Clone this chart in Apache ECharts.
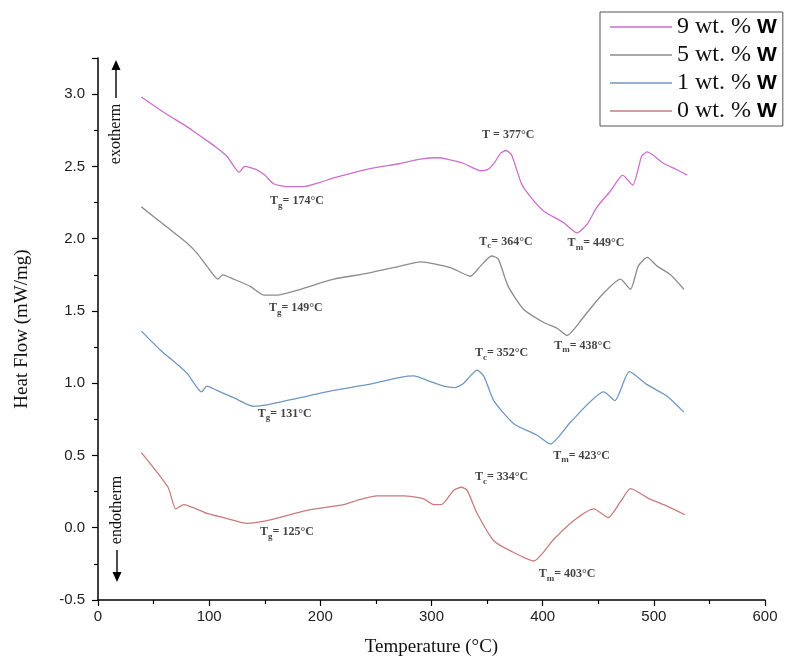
<!DOCTYPE html>
<html>
<head>
<meta charset="utf-8">
<script src="https://cdn.jsdelivr.net/npm/echarts@6/dist/echarts.min.js"></script>
<style>
html, body { margin: 0; padding: 0; background: #fff; }
#main { width: 791px; height: 662px; }
</style>
</head>
<body>
<div id="main"></div>
<script>
// curves: temperature (°C) and heat flow (mW/mg)
var temp9 = [39,60,81,92,105,116,127,132,142,150,158,170,185,200,212,242,272,290,305,314,329,344,351,357,362,367,372,381,390,401,419,431,440,449,461,472,481,489,494,509,520,530];
var flow9 = [2.98,2.87,2.77,2.71,2.64,2.57,2.46,2.50,2.48,2.44,2.38,2.36,2.36,2.39,2.42,2.48,2.52,2.55,2.56,2.55,2.52,2.47,2.48,2.53,2.59,2.61,2.58,2.38,2.28,2.19,2.11,2.04,2.10,2.22,2.33,2.44,2.37,2.57,2.60,2.52,2.48,2.44];

var temp5 = [39,62,80,89,98,108,112,122,137,149,161,182,212,242,272,290,317,335,344,354,360,369,383,401,413,422,437,452,470,479,486,494,503,515,527];
var flow5 = [2.22,2.08,1.97,1.90,1.81,1.72,1.75,1.72,1.67,1.61,1.61,1.65,1.72,1.76,1.81,1.84,1.80,1.74,1.81,1.88,1.86,1.67,1.51,1.42,1.38,1.33,1.46,1.60,1.72,1.65,1.81,1.87,1.81,1.75,1.65];

var temp1 = [39,56,80,93,98,107,122,140,152,182,212,242,272,284,296,311,321,329,341,347,356,374,395,407,425,455,465,478,494,512,527];
var flow1 = [1.36,1.23,1.07,0.94,0.98,0.95,0.90,0.84,0.85,0.90,0.95,0.99,1.04,1.05,1.02,0.98,0.97,1.00,1.09,1.05,0.88,0.72,0.64,0.58,0.73,0.94,0.88,1.08,0.99,0.91,0.80];

var temp0 = [39,63,70,77,98,113,134,158,188,221,233,251,275,293,302,309,320,327,332,341,356,371,392,410,428,446,459,470,479,496,512,528];
var flow0 = [0.52,0.28,0.13,0.16,0.10,0.07,0.03,0.06,0.12,0.16,0.19,0.22,0.22,0.20,0.16,0.16,0.26,0.28,0.26,0.10,-0.09,-0.16,-0.23,-0.08,0.05,0.13,0.07,0.18,0.27,0.20,0.15,0.09];

var seriesNames = ['9 wt. %', '5 wt. %', '1 wt. %', '0 wt. %'];
var seriesColors = ['#cc6fcc', '#8c8c8c', '#6f97c2', '#c87c7c'];

// annotations: subscript letter, temperature text, position (data units)
var annoSub = ['g', '', 'm', 'c', 'g', 'm', 'c', 'g', 'm', 'c', 'g', 'm'];
var annoVal = ['174', '377', '449', '364', '149', '438', '352', '131', '423', '334', '125', '403'];
var annoX = [179, 369, 448, 367, 178, 436, 363, 168, 435, 363, 170, 422];
var annoY = [2.26, 2.72, 1.97, 1.98, 1.52, 1.26, 1.21, 0.79, 0.50, 0.35, -0.03, -0.32];

function zip(xs, ys) {
    return xs.map(function (x, i) { return [x, ys[i]]; });
}

var curves = [zip(temp9, flow9), zip(temp5, flow5), zip(temp1, flow1), zip(temp0, flow0)];

var annoData = annoX.map(function (x, i) {
    var txt = annoSub[i]
        ? '{t|T}{s|' + annoSub[i] + '}{t|= ' + annoVal[i] + '°C}'
        : '{t|T = ' + annoVal[i] + '°C}';
    return { value: [x, annoY[i]], txt: txt };
});

var myChart = echarts.init(document.getElementById('main'));

var series = curves.map(function (d, i) {
    return {
        name: seriesNames[i],
        type: 'line',
        data: d,
        showSymbol: false,
        smooth: 0.2,
        lineStyle: { color: seriesColors[i], width: 1.3 },
        itemStyle: { color: seriesColors[i] },
        z: 3
    };
});

series.push({
    name: 'labels',
    type: 'scatter',
    data: annoData,
    symbolSize: 1,
    silent: true,
    itemStyle: { color: 'rgba(0,0,0,0)' },
    label: {
        show: true,
        position: 'inside',
        formatter: function (p) { return p.data.txt; },
        rich: {
            t: { fontFamily: 'Liberation Serif', fontWeight: 'bold', fontSize: 12, color: '#111' },
            s: { fontFamily: 'Liberation Serif', fontWeight: 'bold', fontSize: 9, color: '#111', padding: [9, 0, 0, 0] }
        }
    },
    z: 5
});

option = {
    backgroundColor: '#fff',
    animation: false,
    grid: { left: 98, right: 26, top: 58, bottom: 61 },
    legend: {
        data: seriesNames,
        orient: 'vertical',
        left: 600,
        top: 12,
        padding: [3, 6, 3, 10],
        borderColor: '#555',
        borderWidth: 1,
        icon: 'rect',
        itemWidth: 62,
        itemHeight: 1.5,
        itemGap: 4,
        formatter: function (n) { return '{a|' + n + ' }{b|W}'; },
        textStyle: {
            rich: {
                a: { fontFamily: 'Liberation Serif', fontSize: 24, color: '#111', lineHeight: 20 },
                b: { fontFamily: 'Liberation Sans', fontWeight: 'bold', fontSize: 21, color: '#000', lineHeight: 20 }
            }
        }
    },
    xAxis: {
        type: 'value',
        min: 0,
        max: 600,
        interval: 100,
        name: 'Temperature (°C)',
        nameLocation: 'middle',
        nameGap: 38,
        nameTextStyle: { fontFamily: 'Liberation Serif', fontSize: 19, color: '#111' },
        axisLine: { onZero: false, lineStyle: { color: '#000', width: 1.5 } },
        axisTick: { show: true, length: 6, lineStyle: { color: '#000', width: 1.2 } },
        minorTick: { show: true, splitNumber: 2, length: 4, lineStyle: { color: '#000', width: 1.2 } },
        splitLine: { show: false },
        axisLabel: { fontFamily: 'Liberation Sans', fontSize: 15, color: '#222', margin: 9 }
    },
    yAxis: {
        type: 'value',
        min: -0.5,
        max: 3.25,
        interval: 0.5,
        name: 'Heat Flow (mW/mg)',
        nameLocation: 'middle',
        nameGap: 66,
        nameTextStyle: { fontFamily: 'Liberation Serif', fontSize: 19, color: '#111' },
        axisLine: { show: true, onZero: false, lineStyle: { color: '#000', width: 1.5 } },
        axisTick: { show: true, length: 6, lineStyle: { color: '#000', width: 1.2 } },
        minorTick: { show: true, splitNumber: 2, length: 4, lineStyle: { color: '#000', width: 1.2 } },
        splitLine: { show: false },
        axisLabel: {
            fontFamily: 'Liberation Sans', fontSize: 15, color: '#222', margin: 13,
            showMaxLabel: false,
            formatter: function (v) { return v.toFixed(1); }
        }
    },
    graphic: [
        { type: 'text', x: 116, y: 134, rotation: Math.PI / 2,
          style: { text: 'exotherm', font: '16px "Liberation Serif"', fill: '#111', align: 'center', verticalAlign: 'middle' } },
        { type: 'line', shape: { x1: 116, y1: 98, x2: 116, y2: 66 }, style: { stroke: '#000', lineWidth: 1.4 } },
        { type: 'polygon', shape: { points: [[111.5, 70], [120.5, 70], [116, 60]] }, style: { fill: '#000' } },
        { type: 'text', x: 117, y: 510, rotation: Math.PI / 2,
          style: { text: 'endotherm', font: '16px "Liberation Serif"', fill: '#111', align: 'center', verticalAlign: 'middle' } },
        { type: 'line', shape: { x1: 117, y1: 550, x2: 117, y2: 576 }, style: { stroke: '#000', lineWidth: 1.4 } },
        { type: 'polygon', shape: { points: [[112.5, 572], [121.5, 572], [117, 582]] }, style: { fill: '#000' } }
    ],
    series: series
};

myChart.setOption(option);
</script>
</body>
</html>
